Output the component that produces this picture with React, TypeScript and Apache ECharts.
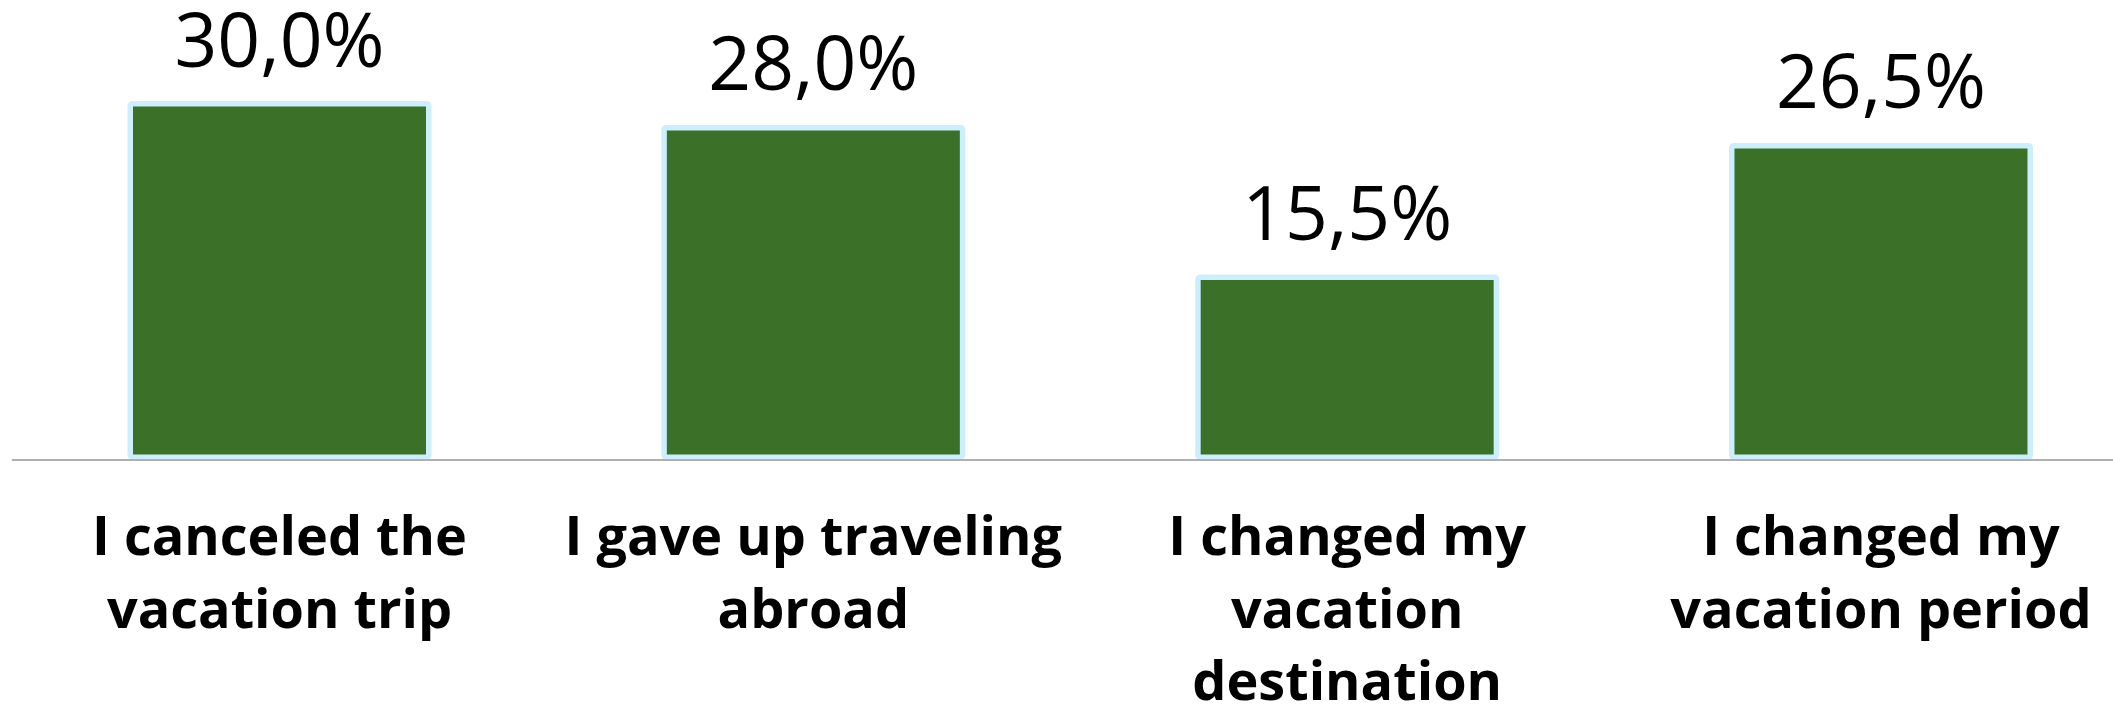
import React, { useEffect, useRef } from "react";
import * as echarts from "echarts";

const categories = [
  "I canceled the\nvacation trip",
  "I gave up traveling\nabroad",
  "I changed my\nvacation\ndestination",
  "I changed my\nvacation period",
];
const values = [30.0, 28.0, 15.5, 26.5];

export default function App() {
  const ref = useRef<HTMLDivElement>(null);
  useEffect(() => {
    if (!ref.current) return;
    const chart = echarts.init(ref.current, null, { renderer: "svg" });
    chart.setOption({
      animation: false,
      backgroundColor: "#ffffff",
      grid: {
        left: 12.6,
        width: 2135.3,
        top: 41.2,
        height: 418.8,
        containLabel: false,
        outerBoundsMode: "none",
      },
      xAxis: {
        type: "category",
        data: categories,
        z: 3,
        axisLine: { show: true, lineStyle: { color: "#b0b0b0", width: 2 } },
        axisTick: { show: false },
        axisLabel: {
          interval: 0,
          margin: 38,
          fontFamily: "Open Sans",
          fontWeight: "bold",
          fontSize: 54,
          lineHeight: 72.5,
          color: "#000000",
        },
      },
      yAxis: {
        type: "value",
        min: 0,
        max: 35,
        show: false,
        splitLine: { show: false },
      },
      series: [
        {
          type: "bar",
          data: values,
          barWidth: 304,
          itemStyle: {
            color: "#3a7027",
            borderColor: "#cdeffd",
            borderWidth: 5.5,
            borderRadius: 2,
          },
          label: {
            show: true,
            position: "top",
            distance: 35.5,
            lineHeight: 56,
            fontFamily: "Open Sans",
            fontSize: 75,
            color: "#000000",
            formatter: (p: any) => p.value.toFixed(1).replace(".", ",") + "%",
          },
        },
      ],
    });
    return () => chart.dispose();
  }, []);
  return (
    <div
      ref={ref}
      style={{ position: "absolute", left: 0, top: 0, width: 2113, height: 705 }}
    />
  );
}
